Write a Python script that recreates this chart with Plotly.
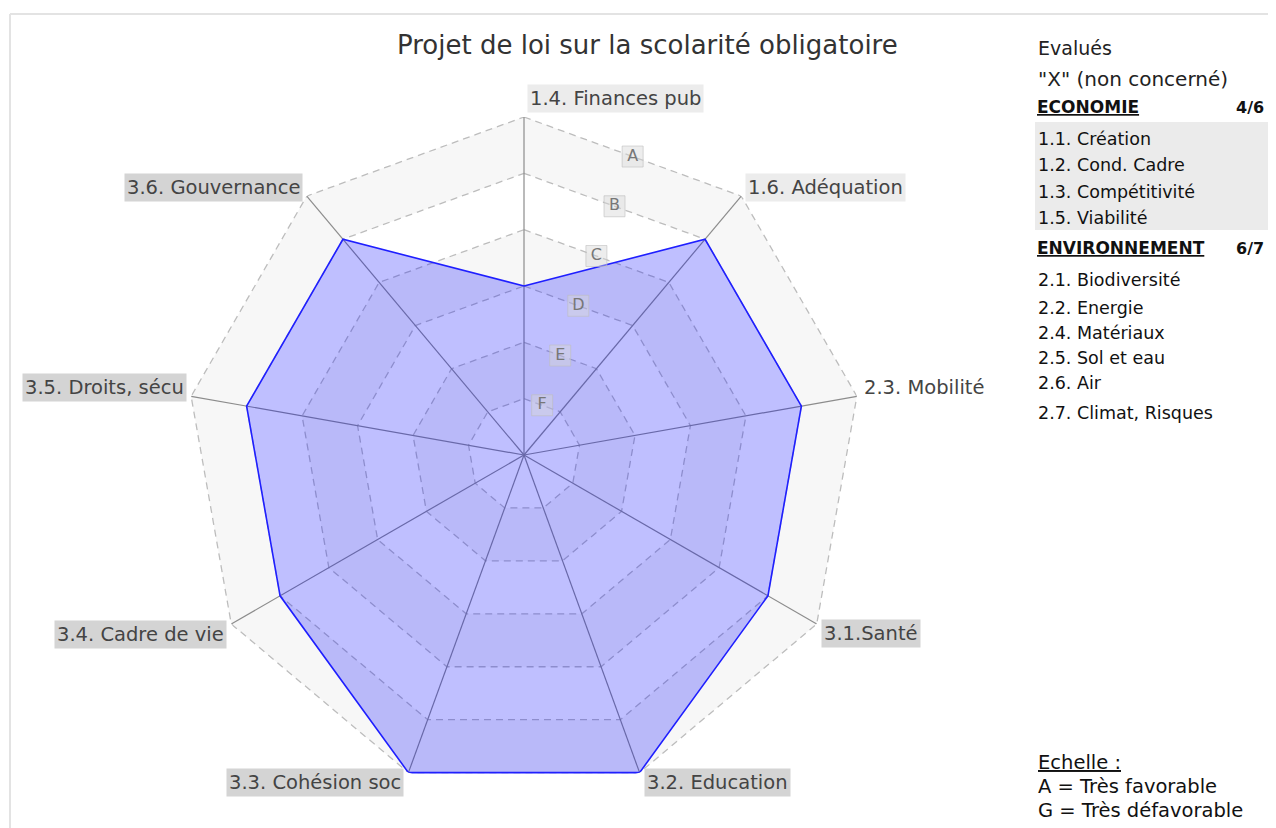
import math
import plotly.graph_objects as go

# ---- data ----
categories = ["1.4. Finances pub", "1.6. Adéquation", "2.3. Mobilité", "3.1.Santé",
              "3.2. Education", "3.3. Cohésion soc", "3.4. Cadre de vie",
              "3.5. Droits, sécu", "3.6. Gouvernance"]
scores = ["D", "B", "B", "B", "A", "A", "B", "B", "B"]
scale_letters = ["G", "F", "E", "D", "C", "B", "A"]  # value 0..6
label_bg = ["#ececec", "#ececec", "rgba(0,0,0,0)", "#d4d4d4", "#d4d4d4",
            "#d4d4d4", "#d4d4d4", "#d4d4d4", "#d4d4d4"]
eco_items = ["1.1. Création", "1.2. Cond. Cadre", "1.3. Compétitivité", "1.5. Viabilité"]
env_items = ["2.1. Biodiversité", "2.2. Energie", "2.4. Matériaux", "2.5. Sol et eau",
             "2.6. Air", "2.7. Climat, Risques"]
title = "Projet de loi sur la scolarité obligatoire"

FONT = "DejaVu Sans"
OFF = 8  # page body margin
W, H = 1276 - OFF, 828 - OFF
CX, CY, RPX = 524 - OFF, 455 - OFF, 338
NMAX = len(scale_letters) - 1
n = len(categories)
step = 360 / n
thetas = [i * step for i in range(n)]
values = [scale_letters.index(s) for s in scores]

fig = go.Figure()

# alternating background bands (A-B grey, B-C white, ...)
for lvl in range(NMAX, 0, -1):
    col = "#f7f7f7" if (NMAX - lvl) % 2 == 0 else "#ffffff"
    fig.add_trace(go.Scatterpolar(r=[lvl] * (n + 1), theta=thetas + [thetas[0]], mode="lines",
                                  fill="toself", fillcolor=col, line=dict(width=0),
                                  hoverinfo="skip", showlegend=False))
# dashed level polygons
for lvl in range(1, NMAX + 1):
    fig.add_trace(go.Scatterpolar(r=[lvl] * (n + 1), theta=thetas + [thetas[0]], mode="lines",
                                  line=dict(color="#bdbdbd", width=1.3, dash="7px,5px"),
                                  hoverinfo="skip", showlegend=False))
# spokes
sr, st = [], []
for t in thetas:
    sr += [0, NMAX, None]
    st += [t, t, None]
fig.add_trace(go.Scatterpolar(r=sr, theta=st, mode="lines", line=dict(color="#8c8c8c", width=1.2),
                              hoverinfo="skip", showlegend=False))
# data polygon
fig.add_trace(go.Scatterpolar(r=values + [values[0]], theta=thetas + [thetas[0]], mode="lines",
                              fill="toself", fillcolor="rgba(0,0,255,0.25)",
                              line=dict(color="#1f1fff", width=1.6), showlegend=False,
                              text=[c + " : " + s for c, s in zip(categories, scores)] + [""],
                              hoverinfo="text"))
# scale letters along the mid-sector direction
half = step / 2
lbl_r = [lvl * math.cos(math.radians(half)) for lvl in range(NMAX, 0, -1)]
fig.add_trace(go.Scatterpolar(r=lbl_r, theta=[half] * NMAX, mode="markers+text",
                              text=scale_letters[NMAX:0:-1], textposition="middle center",
                              textfont=dict(family=FONT, size=16, color="#777777"),
                              marker=dict(symbol="square", size=21, color="rgba(215,215,215,0.45)",
                                          line=dict(color="rgba(190,190,190,0.6)", width=1)),
                              hoverinfo="skip", showlegend=False, cliponaxis=False))

fig.update_layout(
    width=W, height=H,
    margin=dict(l=0, r=0, t=0, b=0),
    paper_bgcolor="white", plot_bgcolor="white",
    polar=dict(
        domain=dict(x=[(CX - RPX) / W, (CX + RPX) / W], y=[1 - (CY + RPX) / H, 1 - (CY - RPX) / H]),
        bgcolor="rgba(0,0,0,0)",
        angularaxis=dict(rotation=90, direction="clockwise", visible=False, showgrid=False,
                         showline=False, showticklabels=False),
        radialaxis=dict(range=[0, NMAX], visible=False, showgrid=False, showline=False,
                        showticklabels=False),
    ),
    showlegend=False,
)

# page-pixel -> paper coordinates
def px(x):
    return (x - OFF) / W

def py(y):
    return 1 - (y - OFF) / H

ann = []
ann.append(dict(x=px(647), y=py(45), text=title, showarrow=False, xanchor="center", yanchor="middle",
                font=dict(family=FONT, size=26, color="#333333")))
# category labels
PCX, PCY = CX + OFF, CY + OFF
for i, (cat, t) in enumerate(zip(categories, thetas)):
    a = math.radians(t)
    vx = PCX + RPX * math.sin(a)
    vy = PCY - RPX * math.cos(a)
    if i == 0:
        xa, x, y = "left", vx + 3, vy - 18
    elif t < 180:
        xa, x = "left", vx + 4
        y = vy - 9 if vy < PCY else vy + 10
    else:
        xa, x = "right", vx - 4
        y = vy - 9 if vy < PCY else vy + 10
    ann.append(dict(x=px(x), y=py(y), text=cat, showarrow=False, xanchor=xa, yanchor="middle",
                    bgcolor=label_bg[i], borderpad=2,
                    font=dict(family=FONT, size=19.5, color="#444444")))

def txt(x, y, s, size=18, xa="left", color="#111111"):
    ann.append(dict(x=px(x), y=py(y), text=s, showarrow=False, xanchor=xa, yanchor="middle",
                    font=dict(family=FONT, size=size, color=color)))

txt(1036, 48, "Evalués", 19, color="#222222")
txt(1036, 79, "\"X\" (non concerné)", 20, color="#222222")
txt(1035, 107, "<b><u>ECONOMIE</u></b>", 17)
txt(1266, 107, "<b>%d/%d</b>" % (len(eco_items), len(eco_items) + 2), 16, xa="right")
ey = [139, 165, 192, 218]
for s, y in zip(eco_items, ey):
    txt(1036, y, s, 17.5)
txt(1035, 248, "<b><u>ENVIRONNEMENT</u></b>", 17)
txt(1266, 248, "<b>%d/%d</b>" % (len(env_items), len(env_items) + 1), 16, xa="right")
vy_ = [280, 308, 333, 358, 383, 413]
for s, y in zip(env_items, vy_):
    txt(1036, y, s, 17.5)
txt(1036, 762, "<u>Echelle :</u>", 19.5)
txt(1036, 786, "A = Très favorable", 19.5)
txt(1036, 810, "G = Très défavorable", 19.5)

fig.update_layout(annotations=ann)

shapes = [
    dict(type="rect", xref="paper", yref="paper", x0=px(1035), x1=px(1268), y0=py(230), y1=py(122),
         fillcolor="#ebebeb", line=dict(width=0), layer="below"),
    dict(type="line", xref="paper", yref="paper", x0=px(10), x1=px(1290), y0=py(14), y1=py(14),
         line=dict(color="#e3e3e3", width=2)),
    dict(type="line", xref="paper", yref="paper", x0=px(10), x1=px(10), y0=py(14), y1=py(840),
         line=dict(color="#e3e3e3", width=2)),
]
fig.update_layout(shapes=shapes)

fig.write_html("out.html")
